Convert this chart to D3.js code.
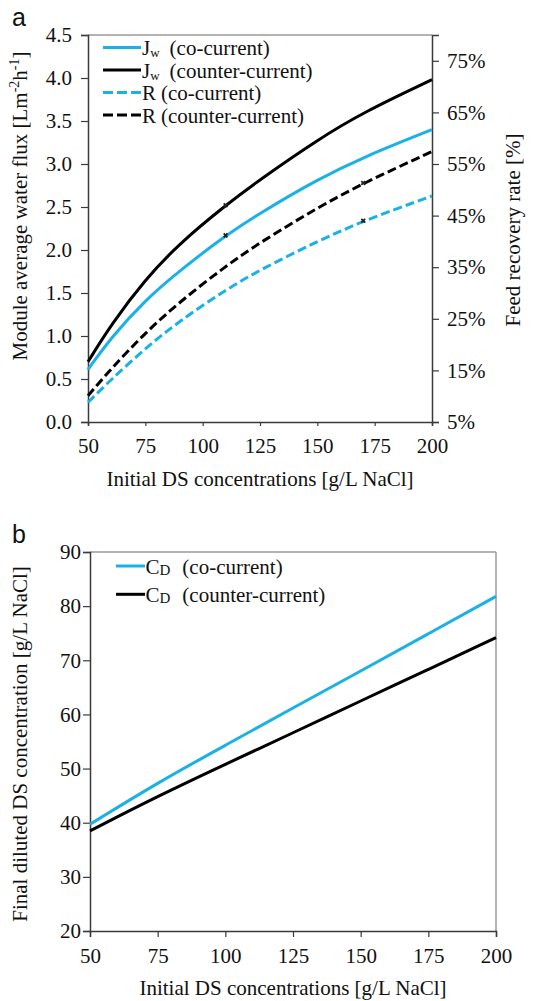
<!DOCTYPE html>
<html>
<head>
<meta charset="utf-8">
<script src="https://cdn.jsdelivr.net/npm/d3@7"></script>
<style>
  body { margin: 0; background: #fff; }
  svg { display: block; font-family: "Liberation Serif", "Times New Roman", serif; }
</style>
</head>
<body>
<svg id="chart" width="533" height="1001"></svg>
<script>
// Panel a: initial DS concentration grid (g/L NaCl)
const concA = [50, 60, 75, 90, 110, 125, 150, 170, 200];
// module average water flux [L m-2 h-1]
const jwCo = [0.61, 0.98, 1.42, 1.76, 2.17, 2.43, 2.82, 3.08, 3.40];
const jwCounter = [0.70, 1.13, 1.66, 2.08, 2.52, 2.82, 3.28, 3.60, 3.98];
// feed recovery rate [%]
const rCo = [8.8, 13.2, 19.3, 24.6, 30.6, 34.5, 40.0, 44.0, 48.8];
const rCounter = [10.1, 15.3, 22.3, 28.3, 35.2, 39.8, 46.5, 51.3, 57.4];
// small marks drawn on the curves
const markAt = { jwCo: 110, jwCounter: 110, rCo: 170, rCounter: 170 };

// Panel b: final diluted DS concentration [g/L NaCl]
const concB = [50, 75, 100, 125, 150, 175, 200];
const cdCo = [39.7, 47.4, 54.3, 61.2, 68.0, 74.9, 81.8];
const cdCounter = [38.5, 44.9, 50.8, 56.6, 62.5, 68.3, 74.2];

const xTicks = [50, 75, 100, 125, 150, 175, 200];
const fluxTicks = [0, 0.5, 1, 1.5, 2, 2.5, 3, 3.5, 4, 4.5];
const recTicks = [5, 15, 25, 35, 45, 55, 65, 75];
const cdTicks = [20, 30, 40, 50, 60, 70, 80, 90];

const BLUE = '#1bb1e7';
const BLACK = '#000';
const AXIS = '#3a3a3a';
const FRAME = '#9a9a9a';
const SERIF = '"Liberation Serif", "Times New Roman", serif';

const svg = d3.select('#chart');

function styleAxis(g) {
  g.attr('font-family', SERIF).attr('font-size', 21);
  g.selectAll('.domain').attr('stroke', AXIS).attr('stroke-width', 1.5);
  g.selectAll('.tick line').attr('stroke', AXIS).attr('stroke-width', 1.2);
  g.selectAll('.tick text').attr('fill', '#111');
}

// ---------- panel a ----------
const xA = d3.scaleLinear().domain([50, 200]).range([88, 432]);
const yFlux = d3.scaleLinear().domain([0, 4.5]).range([422, 35]);
const yRec = d3.scaleLinear().domain([5, 80]).range([422, 35]);

const gA = svg.append('g');

gA.append('line')
  .attr('x1', xA(50)).attr('x2', xA(200))
  .attr('y1', yFlux(4.5)).attr('y2', yFlux(4.5))
  .attr('stroke', FRAME).attr('stroke-width', 1.5);

gA.append('g')
  .attr('transform', `translate(0,${yFlux(0)})`)
  .call(d3.axisBottom(xA).tickValues(xTicks).tickSize(4).tickPadding(12))
  .call(styleAxis);

gA.append('g')
  .attr('transform', `translate(${xA(50)},0)`)
  .call(d3.axisLeft(yFlux).tickValues(fluxTicks).tickFormat(d3.format('.1f')).tickSize(7).tickPadding(9))
  .call(styleAxis);

gA.append('g')
  .attr('transform', `translate(${xA(200)},0)`)
  .call(d3.axisRight(yRec).tickValues(recTicks).tickFormat(d => d + '%').tickSize(7).tickPadding(8))
  .call(styleAxis);

const seriesA = [
  { key: 'rCo', vals: rCo, y: yRec, color: BLUE, dash: '9,4' },
  { key: 'rCounter', vals: rCounter, y: yRec, color: BLACK, dash: '9,4' },
  { key: 'jwCo', vals: jwCo, y: yFlux, color: BLUE, dash: null },
  { key: 'jwCounter', vals: jwCounter, y: yFlux, color: BLACK, dash: null },
];

seriesA.forEach(s => {
  const line = d3.line()
    .x((d, i) => xA(concA[i]))
    .y(d => s.y(d))
    .curve(d3.curveBasis);
  gA.append('path')
    .datum(s.vals)
    .attr('d', line)
    .attr('fill', 'none')
    .attr('stroke', s.color)
    .attr('stroke-width', 3)
    .attr('stroke-dasharray', s.dash);

  const idx = concA.indexOf(markAt[s.key]);
  gA.append('path')
    .attr('d', d3.symbol(d3.symbolCross, 16)())
    .attr('transform', `translate(${xA(concA[idx])},${s.y(s.vals[idx])}) rotate(45)`)
    .attr('fill', '#222');
});

// legend a
const legendA = [
  { main: 'J', sub: 'w', rest: '(co-current)', color: BLUE, dash: null },
  { main: 'J', sub: 'w', rest: '(counter-current)', color: BLACK, dash: null },
  { main: 'R', sub: '', rest: '(co-current)', color: BLUE, dash: '10,4' },
  { main: 'R', sub: '', rest: '(counter-current)', color: BLACK, dash: '10,4' },
];
const legA = gA.append('g').attr('transform', 'translate(103,47.5)');
legendA.forEach((d, i) => {
  const row = legA.append('g').attr('transform', `translate(0,${i * 22.5})`);
  row.append('line')
    .attr('x1', 0).attr('x2', 38)
    .attr('stroke', d.color).attr('stroke-width', 3)
    .attr('stroke-dasharray', d.dash);
  const t = row.append('text')
    .attr('x', 39).attr('y', 7.5)
    .attr('font-size', 21).attr('fill', '#111');
  t.append('tspan').text(d.main);
  if (d.sub) {
    t.append('tspan').attr('font-size', 13).attr('dy', 2).text(d.sub);
    t.append('tspan').attr('dy', -2).attr('dx', 10).text(d.rest);
  } else {
    t.append('tspan').attr('dx', 5).text(d.rest);
  }
});

// titles a
svg.append('text')
  .attr('x', 12).attr('y', 26)
  .attr('font-family', '"Liberation Sans", Arial, sans-serif')
  .attr('font-size', 25).attr('fill', '#111')
  .text('a');

svg.append('text')
  .attr('x', (xA(50) + xA(200)) / 2).attr('y', 486)
  .attr('text-anchor', 'middle').attr('font-size', 21).attr('fill', '#111')
  .text('Initial DS concentrations [g/L NaCl]');

const fluxTitle = svg.append('text')
  .attr('transform', 'translate(27,206) rotate(-90)')
  .attr('text-anchor', 'middle').attr('font-size', 21).attr('fill', '#111');
fluxTitle.append('tspan').text('Module average water flux [Lm');
fluxTitle.append('tspan').attr('font-size', 14).attr('dy', -8).text('-2');
fluxTitle.append('tspan').attr('dy', 8).text('h');
fluxTitle.append('tspan').attr('font-size', 14).attr('dy', -8).text('-1');
fluxTitle.append('tspan').attr('dy', 8).text(']');

svg.append('text')
  .attr('transform', 'translate(520,230) rotate(-90)')
  .attr('text-anchor', 'middle').attr('font-size', 21).attr('fill', '#111')
  .text('Feed recovery rate [%]');

// ---------- panel b ----------
const xB = d3.scaleLinear().domain([50, 200]).range([90, 496]);
const yCd = d3.scaleLinear().domain([20, 90]).range([931, 552]);

const gB = svg.append('g');

gB.append('line')
  .attr('x1', xB(50)).attr('x2', xB(200))
  .attr('y1', yCd(90)).attr('y2', yCd(90))
  .attr('stroke', FRAME).attr('stroke-width', 1.5);
gB.append('line')
  .attr('x1', xB(200)).attr('x2', xB(200))
  .attr('y1', yCd(90)).attr('y2', yCd(20))
  .attr('stroke', FRAME).attr('stroke-width', 1.5);

gB.append('g')
  .attr('transform', `translate(0,${yCd(20)})`)
  .call(d3.axisBottom(xB).tickValues(xTicks).tickSize(6).tickPadding(11))
  .call(styleAxis);

gB.append('g')
  .attr('transform', `translate(${xB(50)},0)`)
  .call(d3.axisLeft(yCd).tickValues(cdTicks).tickSize(7).tickPadding(2))
  .call(styleAxis);

const seriesB = [
  { vals: cdCounter, color: BLACK },
  { vals: cdCo, color: BLUE },
];
seriesB.forEach(s => {
  gB.append('path')
    .datum(s.vals)
    .attr('d', d3.line()
      .x((d, i) => xB(concB[i]))
      .y(d => yCd(d))
      .curve(d3.curveBasis))
    .attr('fill', 'none')
    .attr('stroke', s.color)
    .attr('stroke-width', 3);
});

const legendB = [
  { rest: '(co-current)', color: BLUE },
  { rest: '(counter-current)', color: BLACK },
];
const legB = gB.append('g').attr('transform', 'translate(116,566)');
legendB.forEach((d, i) => {
  const row = legB.append('g').attr('transform', `translate(0,${i * 28.3})`);
  row.append('line')
    .attr('x1', 0).attr('x2', 29)
    .attr('stroke', d.color).attr('stroke-width', 3);
  const t = row.append('text')
    .attr('x', 29.5).attr('y', 7.5)
    .attr('font-size', 21).attr('fill', '#111');
  t.append('tspan').text('C');
  t.append('tspan').attr('font-size', 15).attr('dy', 1).text('D');
  t.append('tspan').attr('dy', -1).attr('dx', 12).text(d.rest);
});

svg.append('text')
  .attr('x', 12).attr('y', 543)
  .attr('font-family', '"Liberation Sans", Arial, sans-serif')
  .attr('font-size', 25).attr('fill', '#111')
  .text('b');

svg.append('text')
  .attr('x', (xB(50) + xB(200)) / 2).attr('y', 995)
  .attr('text-anchor', 'middle').attr('font-size', 21).attr('fill', '#111')
  .text('Initial DS concentrations [g/L NaCl]');

svg.append('text')
  .attr('transform', 'translate(27,744) rotate(-90)')
  .attr('text-anchor', 'middle').attr('font-size', 21).attr('fill', '#111')
  .text('Final diluted DS concentration [g/L NaCl]');
</script>
</body>
</html>
